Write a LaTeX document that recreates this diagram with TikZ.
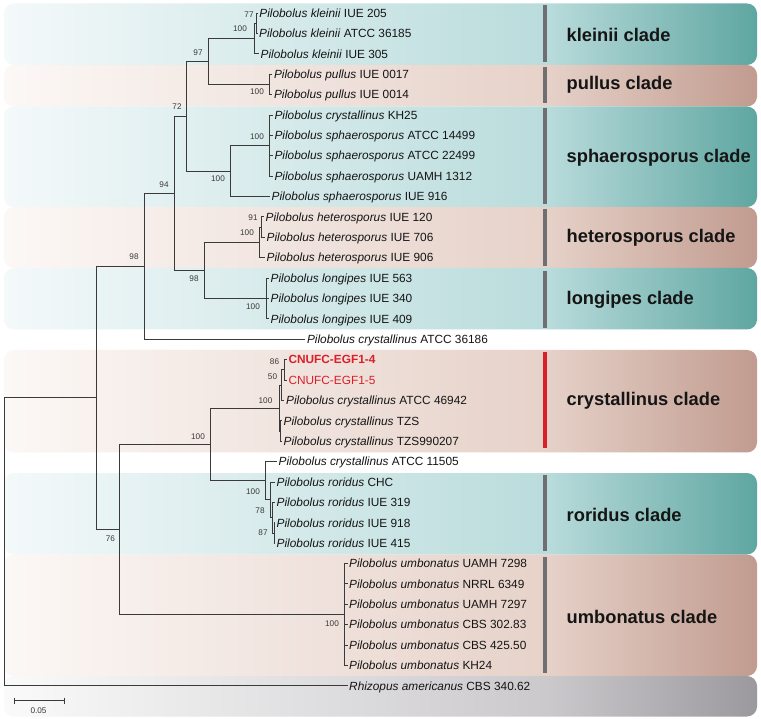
\documentclass[tikz,border=0pt]{standalone}
\usepackage{fontspec}
\setmainfont{Liberation Sans}
\definecolor{tealA}{HTML}{F4F9FA}
\definecolor{tealB}{HTML}{BADCDC}
\definecolor{tealC}{HTML}{5FA6A1}
\definecolor{pinkA}{HTML}{FCF8F6}
\definecolor{pinkB}{HTML}{E6D2C9}
\definecolor{pinkC}{HTML}{C19B8F}
\definecolor{greyA}{HTML}{FAFAFA}
\definecolor{greyB}{HTML}{CBC9CC}
\definecolor{greyC}{HTML}{9B999D}
\definecolor{branchcol}{HTML}{3A3A3A}
\definecolor{barcol}{HTML}{6F6E71}
\definecolor{redcol}{HTML}{DA1F2A}
\definecolor{bscol}{HTML}{3A3A3A}
\definecolor{txtcol}{HTML}{151515}
\newcommand{\cladeband}[5]{%
  \begin{scope}
    \clip[rounded corners=10pt] (4,#1) rectangle (757,#2);
    \shade[left color=#3, right color=#4] (4,#1) rectangle (545.5,#2);
    \shade[left color=#4, right color=#5] (545,#1) rectangle (757,#2);
  \end{scope}}
\tikzset{
  br/.style={draw=branchcol, line width=0.85pt},
  tip/.style={anchor=west, inner xsep=1.5pt, inner ysep=0pt, text height=8.5pt, text depth=0pt,
    font=\fontsize{11.85}{14}\selectfont, text=txtcol},
  bs/.style={inner sep=0pt, font=\fontsize{8.2}{9}\selectfont, text=bscol},
  cladelab/.style={anchor=west, inner sep=0pt, font=\bfseries\fontsize{18.3}{21}\selectfont, text=txtcol},
  cbar/.style={draw=barcol, line width=4pt},
  rbar/.style={draw=redcol, line width=4pt},
}
\begin{document}
\begin{tikzpicture}[x=1pt, y=-1pt]
\useasboundingbox (0,0) rectangle (761,719);
\fill[white] (0,0) rectangle (761,719);
% bands
\cladeband{3.5}{65}{tealA}{tealB}{tealC}
\cladeband{65}{106.5}{pinkA}{pinkB}{pinkC}
\cladeband{106.5}{207}{tealA}{tealB}{tealC}
\cladeband{207}{268}{pinkA}{pinkB}{pinkC}
\cladeband{268}{329.5}{tealA}{tealB}{tealC}
\cladeband{350}{452.5}{pinkA}{pinkB}{pinkC}
\cladeband{473}{554.5}{tealA}{tealB}{tealC}
\cladeband{554.5}{676}{pinkA}{pinkB}{pinkC}
\cladeband{676}{716.5}{greyA}{greyB}{greyC}
% clade bars
\draw[cbar] (544.5,5) -- (544.5,62);
\draw[cbar] (544.5,67) -- (544.5,103);
\draw[cbar] (544.5,108) -- (544.5,204);
\draw[cbar] (544.5,209) -- (544.5,266);
\draw[cbar] (544.5,271) -- (544.5,328);
\draw[rbar] (544.5,352) -- (544.5,448);
\draw[cbar] (544.5,475) -- (544.5,551);
\draw[cbar] (544.5,557) -- (544.5,673);
% clade labels
\node[cladelab] (cl1) at (566.5,35.4) {kleinii clade};
\node[cladelab] (cl2) at (566.5,85) {pullus clade};
\node[cladelab] (cl3) at (566.5,157.6) {sphaerosporus clade};
\node[cladelab] (cl4) at (566.5,237.5) {heterosporus clade};
\node[cladelab] (cl5) at (566.5,299.5) {longipes clade};
\node[cladelab] (cl6) at (566.5,400.6) {crystallinus clade};
\node[cladelab] (cl7) at (566.5,515) {roridus clade};
\node[cladelab] (cl8) at (566.5,616.5) {umbonatus clade};
% tips
\node[tip] (t1) at (257.7,13.0) {\textit{Pilobolus kleinii} IUE 205};
\node[tip] (t2) at (257.5,33.39) {\textit{Pilobolus kleinii} ATCC 36185};
\node[tip] (t3) at (259,53.78) {\textit{Pilobolus kleinii} IUE 305};
\node[tip] (t4) at (272.3,74.17) {\textit{Pilobolus pullus} IUE 0017};
\node[tip] (t5) at (272.3,94.56) {\textit{Pilobolus pullus} IUE 0014};
\node[tip] (t6) at (272.8,114.95) {\textit{Pilobolus crystallinus} KH25};
\node[tip] (t7) at (272.8,135.34) {\textit{Pilobolus sphaerosporus} ATCC 14499};
\node[tip] (t8) at (272.8,155.73) {\textit{Pilobolus sphaerosporus} ATCC 22499};
\node[tip] (t9) at (272.8,176.12) {\textit{Pilobolus sphaerosporus} UAMH 1312};
\node[tip] (t10) at (270,196.51) {\textit{Pilobolus sphaerosporus} IUE 916};
\node[tip] (t11) at (264,216.9) {\textit{Pilobolus heterosporus} IUE 120};
\node[tip] (t12) at (265,237.29) {\textit{Pilobolus heterosporus} IUE 706};
\node[tip] (t13) at (265,257.68) {\textit{Pilobolus heterosporus} IUE 906};
\node[tip] (t14) at (269,278.07) {\textit{Pilobolus longipes} IUE 563};
\node[tip] (t15) at (269,298.46) {\textit{Pilobolus longipes} IUE 340};
\node[tip] (t16) at (269,318.85) {\textit{Pilobolus longipes} IUE 409};
\node[tip] (t17) at (305.3,339.24) {\textit{Pilobolus crystallinus} ATCC 36186};
\node[tip, text=redcol, font=\bfseries\fontsize{11.85}{14}\selectfont] (t18) at (286.8,359.63) {CNUFC-EGF1-4};
\node[tip, text=redcol] (t19) at (286.8,380.02) {CNUFC-EGF1-5};
\node[tip] (t20) at (284.4,400.41) {\textit{Pilobolus crystallinus} ATCC 46942};
\node[tip] (t21) at (282,420.8) {\textit{Pilobolus crystallinus} TZS};
\node[tip] (t22) at (282,441.19) {\textit{Pilobolus crystallinus} TZS990207};
\node[tip] (t23) at (277,461.58) {\textit{Pilobolus crystallinus} ATCC 11505};
\node[tip] (t24) at (275,481.97) {\textit{Pilobolus roridus} CHC};
\node[tip] (t25) at (275,502.36) {\textit{Pilobolus roridus} IUE 319};
\node[tip] (t26) at (275,522.75) {\textit{Pilobolus roridus} IUE 918};
\node[tip] (t27) at (275,543.14) {\textit{Pilobolus roridus} IUE 415};
\node[tip] (t28) at (347.5,563.53) {\textit{Pilobolus umbonatus} UAMH 7298};
\node[tip] (t29) at (347.5,583.92) {\textit{Pilobolus umbonatus} NRRL 6349};
\node[tip] (t30) at (347.5,604.31) {\textit{Pilobolus umbonatus} UAMH 7297};
\node[tip] (t31) at (347.5,624.7) {\textit{Pilobolus umbonatus} CBS 302.83};
\node[tip] (t32) at (347.5,645.09) {\textit{Pilobolus umbonatus} CBS 425.50};
\node[tip] (t33) at (347.5,665.48) {\textit{Pilobolus umbonatus} KH24};
\node[tip] (t34) at (347.5,685.87) {\textit{Rhizopus americanus} CBS 340.62};
% internal nodes
\coordinate (root) at (4.5,541.87);
\coordinate (D) at (96,397.87);
\coordinate (C) at (144.5,266.29);
\coordinate (B) at (174,193.33);
\coordinate (A) at (186.4,116.23);
\coordinate (KP) at (208.5,61.43);
\coordinate (K) at (254.5,38.49);
\coordinate (K1) at (256.5,23.2);
\coordinate (P) at (269.4,84.37);
\coordinate (S2) at (230.6,171.02);
\coordinate (S1) at (269.4,145.54);
\coordinate (HL) at (204,270.43);
\coordinate (H) at (259.5,242.39);
\coordinate (H1) at (261.5,227.1);
\coordinate (L) at (266,298.46);
\coordinate (E) at (119.5,529.44);
\coordinate (F) at (210.5,444.38);
\coordinate (G) at (279,408.06);
\coordinate (G1) at (281,385.12);
\coordinate (G1a) at (284,369.83);
\coordinate (G2) at (280.5,431.0);
\coordinate (R) at (265.5,480.7);
\coordinate (R1) at (270,499.8);
\coordinate (R2) at (272,517.66);
\coordinate (R3) at (274,532.95);
\coordinate (U) at (344.5,614.5);
% branches
\draw[br] (root) |- (D) (root) |- (t34.west);
\draw[br] (D) |- (C) (D) |- (E);
\draw[br] (C) |- (B) (C) |- (t17.west);
\draw[br] (B) |- (A) (B) |- (HL);
\draw[br] (A) |- (KP) (A) |- (S2);
\draw[br] (KP) |- (K) (KP) |- (P);
\draw[br] (K) |- (K1) (K) |- (t3.west);
\draw[br] (K1) |- (t1.west) (K1) |- (t2.west);
\draw[br] (P) |- (t4.west) (P) |- (t5.west);
\draw[br] (S2) |- (S1) (S2) |- (t10.west);
\draw[br] (S1) |- (t6.west) (S1) |- (t7.west) (S1) |- (t8.west) (S1) |- (t9.west);
\draw[br] (HL) |- (H) (HL) |- (L);
\draw[br] (H) |- (H1) (H) |- (t13.west);
\draw[br] (H1) |- (t11.west) (H1) |- (t12.west);
\draw[br] (L) |- (t14.west) (L) |- (t15.west) (L) |- (t16.west);
\draw[br] (E) |- (F) (E) |- (U);
\draw[br] (F) |- (G) (F) |- (R);
\draw[br] (G) |- (G1) (G) |- (G2);
\draw[br] (G1) |- (G1a) (G1) |- (t20.west);
\draw[br] (G1a) |- (t18.west) (G1a) |- (t19.west);
\draw[br] (G2) |- (t21.west) (G2) |- (t22.west);
\draw[br] (R) |- (t23.west) (R) |- (R1);
\draw[br] (R1) |- (t24.west) (R1) |- (R2);
\draw[br] (R2) |- (t25.west) (R2) |- (R3);
\draw[br] (R3) |- (t26.west) (R3) |- (t27.west);
\draw[br] (U) |- (t28.west) (U) |- (t29.west) (U) |- (t30.west) (U) |- (t31.west) (U) |- (t32.west) (U) |- (t33.west);
% bootstrap values
\node[bs] (b1) at (249,15) {77};
\node[bs] (b2) at (240,29) {100};
\node[bs] (b3) at (198,53) {97};
\node[bs] (b4) at (257,92) {100};
\node[bs] (b5) at (177,107) {72};
\node[bs] (b6) at (257,137) {100};
\node[bs] (b7) at (218,179) {100};
\node[bs] (b8) at (164,185) {94};
\node[bs] (b9) at (253,218) {91};
\node[bs] (b10) at (247,233) {100};
\node[bs] (b11) at (134,257) {98};
\node[bs] (b12) at (194,279) {98};
\node[bs] (b13) at (253,307) {100};
\node[bs] (b14) at (274.5,362) {86};
\node[bs] (b15) at (272.5,377) {50};
\node[bs] (b16) at (265.5,401) {100};
\node[bs] (b17) at (198,437) {100};
\node[bs] (b18) at (253,491.5) {100};
\node[bs] (b19) at (260,511) {78};
\node[bs] (b20) at (263,532.5) {87};
\node[bs] (b21) at (110.5,539) {76};
\node[bs] (b22) at (332,624) {100};
% scale bar
\coordinate (sb1) at (14.5,700.5);
\coordinate (sb2) at (64.5,700.5);
\draw[br] (sb1) -- (sb2);
\draw[br] ([yshift=3pt]sb1) -- ([yshift=-3pt]sb1);
\draw[br] ([yshift=3pt]sb2) -- ([yshift=-3pt]sb2);
\node[bs] (sblab) at (38.5,710.5) {0.05};
\end{tikzpicture}
\end{document}
